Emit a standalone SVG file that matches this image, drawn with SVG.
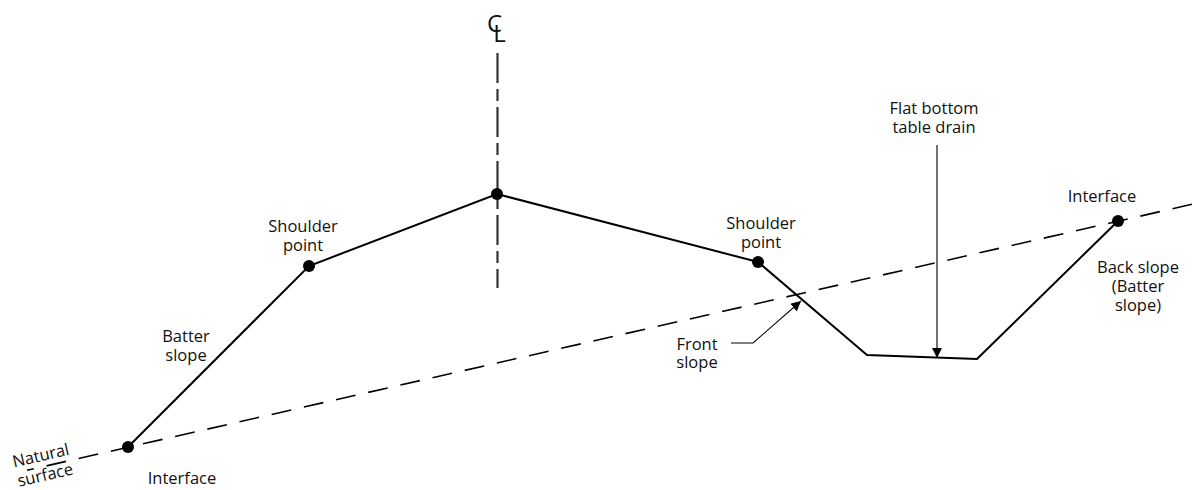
<svg xmlns="http://www.w3.org/2000/svg" width="1192" height="490" viewBox="0 0 1192 490">
<defs>
<style>
text{font-family:"Open Sans","Liberation Sans",sans-serif;font-size:16.5px;fill:#111;text-anchor:middle}
.prof{fill:none;stroke:#000;stroke-width:2;stroke-linejoin:miter}
.ns{fill:none;stroke:#000;stroke-width:1.6;stroke-dasharray:20 13}
.cl{fill:none;stroke:#333;stroke-width:2.2;stroke-dasharray:30 6 12 6}
.lead{fill:none;stroke:#000;stroke-width:1.1}
.dot{fill:#000}
</style>
<marker id="ah" viewBox="0 0 10 10" refX="10" refY="5" markerWidth="10" markerHeight="10" markerUnits="userSpaceOnUse" orient="auto">
<path d="M0,0 L10,5 L0,10 z" fill="#000"/>
</marker>
</defs>
<rect width="1192" height="490" fill="#fff"/>
<g id="connectors">
<line class="cl" x1="497.5" y1="53" x2="497.5" y2="288"/>
<line class="ns" x1="1192" y1="204.3" x2="27" y2="470.3"/>
<polyline class="prof" points="128,447 309,266 497,194 758,262 867,355 977,359 1118,221"/>
<polyline class="lead" points="731,343 753,343 801,301" marker-end="url(#ah)"/>
<line class="lead" x1="937" y1="145" x2="937" y2="358" marker-end="url(#ah)"/>
</g>
<g id="centerline-label">
<text x="492" y="32" style="font-size:24px;text-anchor:start" transform="translate(-5,0)">C<tspan dx="-9" dy="10">L</tspan></text>
</g>
<g id="crown"><circle class="dot" cx="497" cy="194" r="6"/></g>
<g id="left-shoulder">
<circle class="dot" cx="309" cy="266" r="6"/>
<text x="303" y="232">Shoulder<tspan x="303" dy="19">point</tspan></text>
</g>
<g id="right-shoulder">
<circle class="dot" cx="758" cy="262" r="6"/>
<text x="761" y="229">Shoulder<tspan x="761" dy="19">point</tspan></text>
</g>
<g id="left-interface">
<circle class="dot" cx="128" cy="447" r="6"/>
<text x="182" y="484">Interface</text>
</g>
<g id="right-interface">
<circle class="dot" cx="1118" cy="221" r="6"/>
<text x="1102" y="202">Interface</text>
</g>
<g id="batter-slope">
<text x="186" y="342">Batter<tspan x="186" dy="19">slope</tspan></text>
</g>
<g id="back-slope">
<text x="1138" y="273">Back slope<tspan x="1138" dy="19">(Batter</tspan><tspan x="1138" dy="19">slope)</tspan></text>
</g>
<g id="front-slope">
<text x="697" y="350">Front<tspan x="697" dy="18">slope</tspan></text>
</g>
<g id="table-drain">
<text x="934" y="114">Flat bottom<tspan x="934" dy="19">table drain</tspan></text>
</g>
<g id="natural-surface">
<text x="0" y="0" transform="translate(42,461) rotate(-13)">Natural<tspan x="0" dy="20">surface</tspan></text>
</g>
</svg>
